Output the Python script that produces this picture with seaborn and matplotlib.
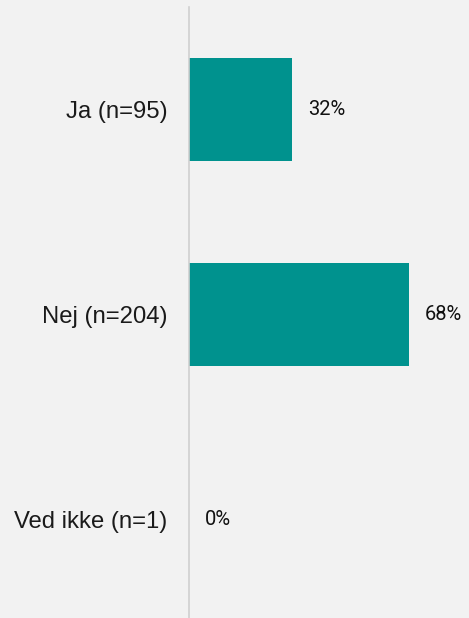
import matplotlib
matplotlib.use("Agg")
import matplotlib.pyplot as plt
import seaborn as sns
import pandas as pd

# ----- data -----
categories = ["Ja (n=95)", "Nej (n=204)", "Ved ikke (n=1)"]
shares = [32, 68, 0]
value_labels = ["32%", "68%", "0%"]

BG = "#f2f2f2"
TEAL = "#00928e"

sns.set_theme(style="white")
plt.rcParams["font.family"] = ["Liberation Sans", "DejaVu Sans"]

df = pd.DataFrame({"kategori": categories, "andel": shares})

fig = plt.figure(figsize=(4.69, 6.18), dpi=100, facecolor=BG)
ax = fig.add_axes([189 / 469, 0.0, 1 - 189 / 469, (618 - 7) / 618])
ax.set_facecolor(BG)

sns.barplot(data=df, x="andel", y="kategori", color=TEAL, width=0.5,
            saturation=1, linewidth=0, ax=ax)

ax.set_xlim(0, 86.7)
ax.set_ylim(2.48, -0.5)
ax.set_xlabel("")
ax.set_ylabel("")
ax.set_xticks([])
ax.tick_params(axis="y", length=0, pad=15.5, labelsize=17.2, colors="#1a1a1a")
for side in ["top", "right", "bottom"]:
    ax.spines[side].set_visible(False)
ax.spines["left"].set_color("#d0d0d0")
ax.spines["left"].set_linewidth(1.2)

for i, (v, lab) in enumerate(zip(shares, value_labels)):
    ax.annotate(lab, xy=(v, i), xytext=(11.5, 0), textcoords="offset points",
                va="center", ha="left", fontsize=14.5, color="#111111",
                family=["Roboto", "DejaVu Sans"])

fig.savefig("out.png", dpi=100, facecolor=BG)
